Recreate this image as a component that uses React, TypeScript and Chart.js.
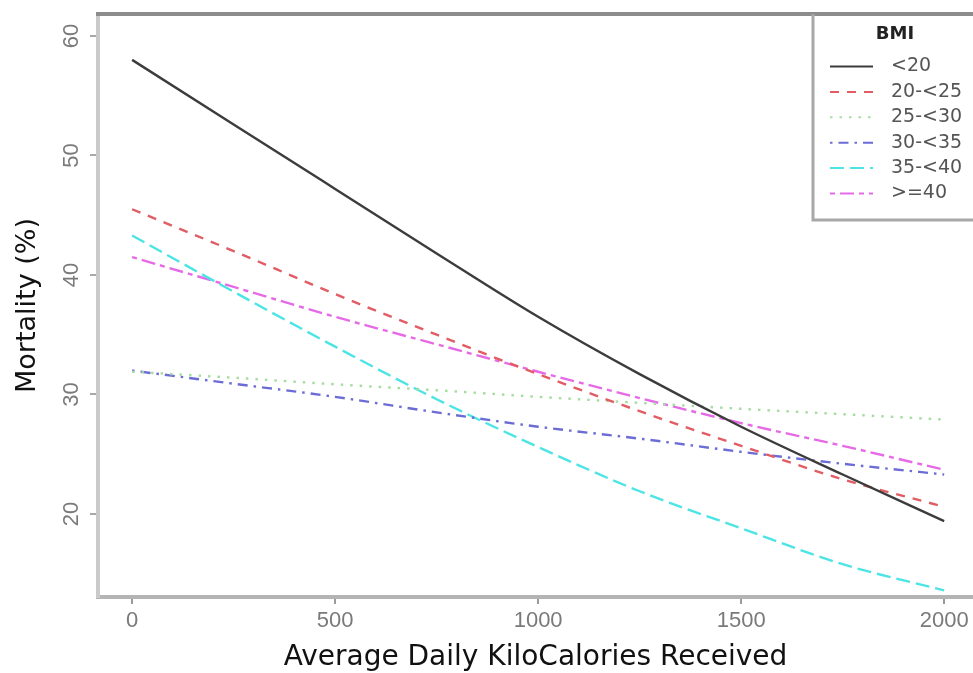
import React, { useEffect, useRef } from "react";
import { Chart, registerables } from "chart.js";

Chart.register(...registerables);

// ---- data ----
const kcal = [0, 250, 500, 750, 1000, 1250, 1500, 1750, 2000];
const bmiUnder20 = [58.0, 52.6, 47.2, 41.8, 36.5, 31.7, 27.3, 23.3, 19.4];
const bmi20to25 = [45.5, 42.0, 38.4, 35.0, 31.7, 28.6, 25.7, 22.9, 20.6];
const bmi25to30 = [31.9, 31.4, 30.85, 30.35, 29.8, 29.3, 28.8, 28.35, 27.9];
const bmi30to35 = [32.0, 30.9, 29.8, 28.5, 27.3, 26.3, 25.2, 24.2, 23.3];
const bmi35to40 = [43.3, 38.6, 34.0, 29.6, 25.6, 21.9, 18.8, 15.8, 13.6];
const bmiOver40 = [41.5, 39.0, 36.5, 34.2, 31.9, 29.7, 27.6, 25.7, 23.7];
const seriesLabels = ["<20", "20-<25", "25-<30", "30-<35", "35-<40", ">=40"];
const xTicks = [0, 500, 1000, 1500, 2000];
const yTicks = [20, 30, 40, 50, 60];
const legendTitle = "BMI";
const xTitle = "Average Daily KiloCalories Received";
const yTitle = "Mortality (%)";

// ---- styles ----
const seriesValues = [bmiUnder20, bmi20to25, bmi25to30, bmi30to35, bmi35to40, bmiOver40];
const seriesColors = ["#3c3c3c", "#e25c64", "#a6dca0", "#6c6cd6", "#4ce4e4", "#e66ae6"];
const seriesDashes: number[][] = [[], [9, 8], [2.5, 7], [2.5, 6, 10, 6], [14, 6], [5, 5, 14, 5]];

const frameLines = {
  id: "frameLines",
  afterDraw(chart: any) {
    const { ctx, chartArea } = chart;
    ctx.save();
    // top frame line
    ctx.strokeStyle = "#8c8c8c";
    ctx.lineWidth = 4;
    ctx.beginPath();
    ctx.moveTo(chartArea.left - 2, chartArea.top);
    ctx.lineTo(chartArea.right + 2, chartArea.top);
    ctx.stroke();

    // legend box
    const lx = 813;
    const ly = chartArea.top;
    const lw = 175;
    const lh = 206;
    ctx.fillStyle = "#ffffff";
    ctx.fillRect(lx, ly + 2, lw, lh - 2);
    ctx.strokeStyle = "#a8a8a8";
    ctx.lineWidth = 3;
    ctx.beginPath();
    ctx.moveTo(lx, ly);
    ctx.lineTo(lx, ly + lh);
    ctx.lineTo(lx + lw, ly + lh);
    ctx.stroke();

    ctx.fillStyle = "#222";
    ctx.font = "bold 18px 'DejaVu Sans'";
    ctx.textAlign = "center";
    ctx.textBaseline = "middle";
    ctx.fillText(legendTitle, 895, 34);

    ctx.textAlign = "left";
    ctx.font = "19px 'DejaVu Sans'";
    chart.data.datasets.forEach((ds: any, i: number) => {
      const y = 66.5 + i * 25.4;
      ctx.strokeStyle = ds.borderColor;
      ctx.lineWidth = 2;
      ctx.setLineDash(ds.borderDash || []);
      ctx.beginPath();
      ctx.moveTo(830, y);
      ctx.lineTo(873, y);
      ctx.stroke();
      ctx.setLineDash([]);
      ctx.fillStyle = "#555";
      ctx.fillText(ds.label, 891, y);
    });
    ctx.restore();
  },
};

export default function App() {
  const ref = useRef<HTMLCanvasElement | null>(null);

  useEffect(() => {
    if (!ref.current) return;
    const datasets = seriesLabels.map((label, i) => ({
      label,
      data: kcal.map((x, j) => ({ x, y: seriesValues[i][j] })),
      borderColor: seriesColors[i],
      backgroundColor: seriesColors[i],
      borderDash: seriesDashes[i],
      borderWidth: 2.4,
      pointRadius: 0,
      fill: false,
      cubicInterpolationMode: "monotone" as const,
    }));

    const chart = new Chart(ref.current, {
      type: "line",
      data: { datasets },
      options: {
        animation: false,
        responsive: false,
        layout: { padding: { top: 14, left: 0, right: 0, bottom: 0 } },
        plugins: {
          legend: { display: false },
          tooltip: { enabled: false },
        },
        scales: {
          x: {
            type: "linear",
            min: -84,
            max: 2071,
            afterBuildTicks: (s: any) => {
              s.ticks = xTicks.map((v) => ({ value: v }));
            },
            afterFit: (s: any) => {
              s.height = 76;
              s.paddingLeft = 0;
              s.paddingRight = 0;
            },
            border: { display: true, color: "#b4b4b4", width: 4 },
            grid: {
              drawOnChartArea: false,
              drawTicks: true,
              tickLength: 7,
              color: "#9a9a9a",
              lineWidth: 2,
            },
            ticks: {
              color: "#7a7a7a",
              font: { family: "'Liberation Sans', Arial", size: 22 },
              padding: 4,
              maxRotation: 0,
              minRotation: 0,
              callback: (v: any) => String(v),
            },
            title: {
              display: true,
              text: xTitle,
              color: "#111",
              font: { family: "'DejaVu Sans'", size: 28, lineHeight: 1 },
              padding: { top: 0, bottom: 1 },
            },
          },
          y: {
            type: "linear",
            min: 13.05,
            max: 61.84,
            afterBuildTicks: (s: any) => {
              s.ticks = yTicks.map((v) => ({ value: v }));
            },
            afterFit: (s: any) => {
              s.width = 98;
              s.paddingTop = 0;
              s.paddingBottom = 0;
            },
            border: { display: true, color: "#cacaca", width: 4 },
            grid: {
              drawOnChartArea: false,
              drawTicks: true,
              tickLength: 8,
              color: "#a8a8a8",
              lineWidth: 2,
            },
            ticks: {
              color: "#7a7a7a",
              font: { family: "'Liberation Sans', Arial", size: 22 },
              padding: 6,
              minRotation: 90,
              maxRotation: 90,
              crossAlign: "center",
              callback: (v: any) => String(v),
            },
            title: {
              display: true,
              text: yTitle,
              color: "#111",
              font: { family: "'DejaVu Sans'", size: 27, lineHeight: 1 },
              padding: { top: 14.5, bottom: 0 },
            },
          },
        },
      },
      plugins: [frameLines],
    });
    return () => chart.destroy();
  }, []);

  return (
    <div style={{ position: "fixed", left: 0, top: 0, width: 973, height: 673, background: "#fff" }}>
      <canvas ref={ref} width={973} height={673} style={{ display: "block" }} />
    </div>
  );
}
